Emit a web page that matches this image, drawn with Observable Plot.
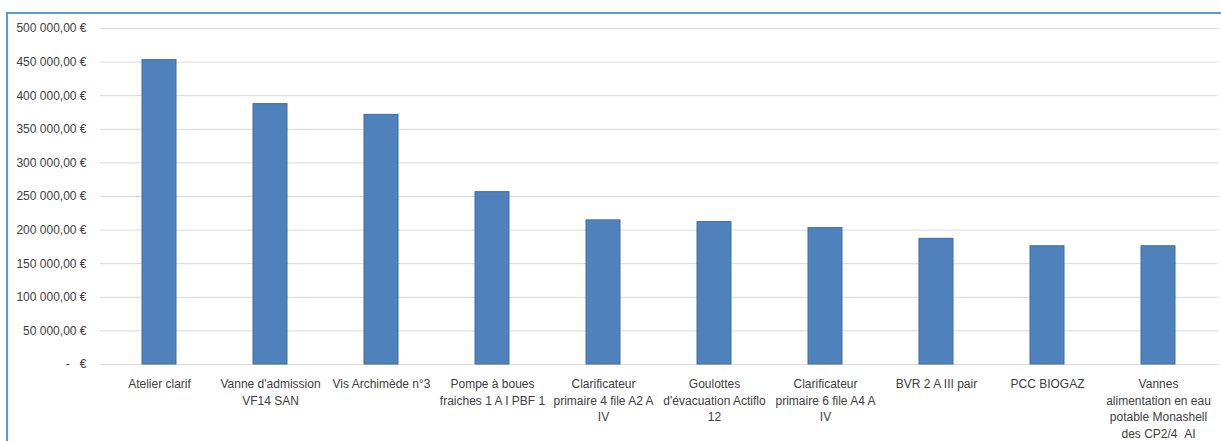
<!DOCTYPE html>
<html>
<head>
<meta charset="utf-8">
<script src="https://cdn.jsdelivr.net/npm/d3@7"></script>
<script src="https://cdn.jsdelivr.net/npm/@observablehq/plot@0.6"></script>
<style>
  html, body { margin: 0; padding: 0; background: #fff; overflow: hidden; }
  #wrap { position: relative; width: 1221px; height: 441px; }
  #frame { position: absolute; left: 6px; top: 12px; width: 1230px; height: 450px;
           border-top: 2px solid #5B9BD5; border-left: 2px solid #5B9BD5; box-sizing: border-box; pointer-events: none; }
  #chart { position: absolute; left: 0; top: 0; }
</style>
</head>
<body>
<div id="wrap"><div id="chart"></div><div id="frame"></div></div>
<script>
const categories = [
  "Atelier clarif",
  "Vanne d'admission VF14 SAN",
  "Vis Archimède n°3",
  "Pompe à boues fraiches 1 A I PBF 1",
  "Clarificateur primaire 4 file A2 A IV",
  "Goulottes d'évacuation Actiflo 12",
  "Clarificateur primaire 6 file A4 A IV",
  "BVR 2 A III pair",
  "PCC BIOGAZ",
  "Vannes alimentation en eau potable Monashell des CP2/4  AI"
];
const tickLabels = [
  "Atelier clarif",
  "Vanne d'admission\nVF14 SAN",
  "Vis Archimède n°3",
  "Pompe à boues\nfraiches 1 A I PBF 1",
  "Clarificateur\nprimaire 4 file A2 A\nIV",
  "Goulottes\nd'évacuation Actiflo\n12",
  "Clarificateur\nprimaire 6 file A4 A\nIV",
  "BVR 2 A III pair",
  "PCC BIOGAZ",
  "Vannes\nalimentation en eau\npotable Monashell\ndes CP2/4\u00a0\u00a0AI"
];
const values = [453000, 387500, 371500, 256500, 214500, 212000, 203000, 187000, 176000, 176000];
const yTicks = [0, 50000, 100000, 150000, 200000, 250000, 300000, 350000, 400000, 450000, 500000];

const data = categories.map((c, i) => ({category: c, value: values[i]}));
const labelOf = new Map(categories.map((c, i) => [c, tickLabels[i]]));

function euro(v) {
  if (v === 0) return "-\u00a0\u00a0\u00a0€";
  const s = Math.round(v).toString().replace(/\B(?=(\d{3})+(?!\d))/g, "\u00a0");
  return s + ",00\u00a0€";
}

const chart = Plot.plot({
  width: 1221,
  height: 441,
  marginLeft: 100,
  marginRight: 3,
  marginTop: 28,
  marginBottom: 77,
  style: {fontFamily: "'Liberation Sans', Arial, sans-serif", fontSize: "12px", color: "#404040", background: "transparent"},
  x: {domain: categories, paddingInner: 0.69, paddingOuter: 0.345, align: 0.5},
  y: {domain: [0, 500000]},
  marks: [
    Plot.gridY(yTicks, {stroke: "#D9D9D9", strokeOpacity: 1, strokeWidth: 1}),
    Plot.barY(data, {x: "category", y: "value", fill: "#4F81BD", stroke: "#41719C", strokeWidth: 1}),
    Plot.axisY({ticks: yTicks, tickFormat: euro, tickSize: 0, tickPadding: 14, label: null, fill: "#404040"}),
    Plot.axisX({tickFormat: d => labelOf.get(d), tickSize: 0, tickPadding: 12, label: null, lineHeight: 1.38, fill: "#404040"})
  ]
});
document.getElementById("chart").appendChild(chart);
</script>
</body>
</html>
